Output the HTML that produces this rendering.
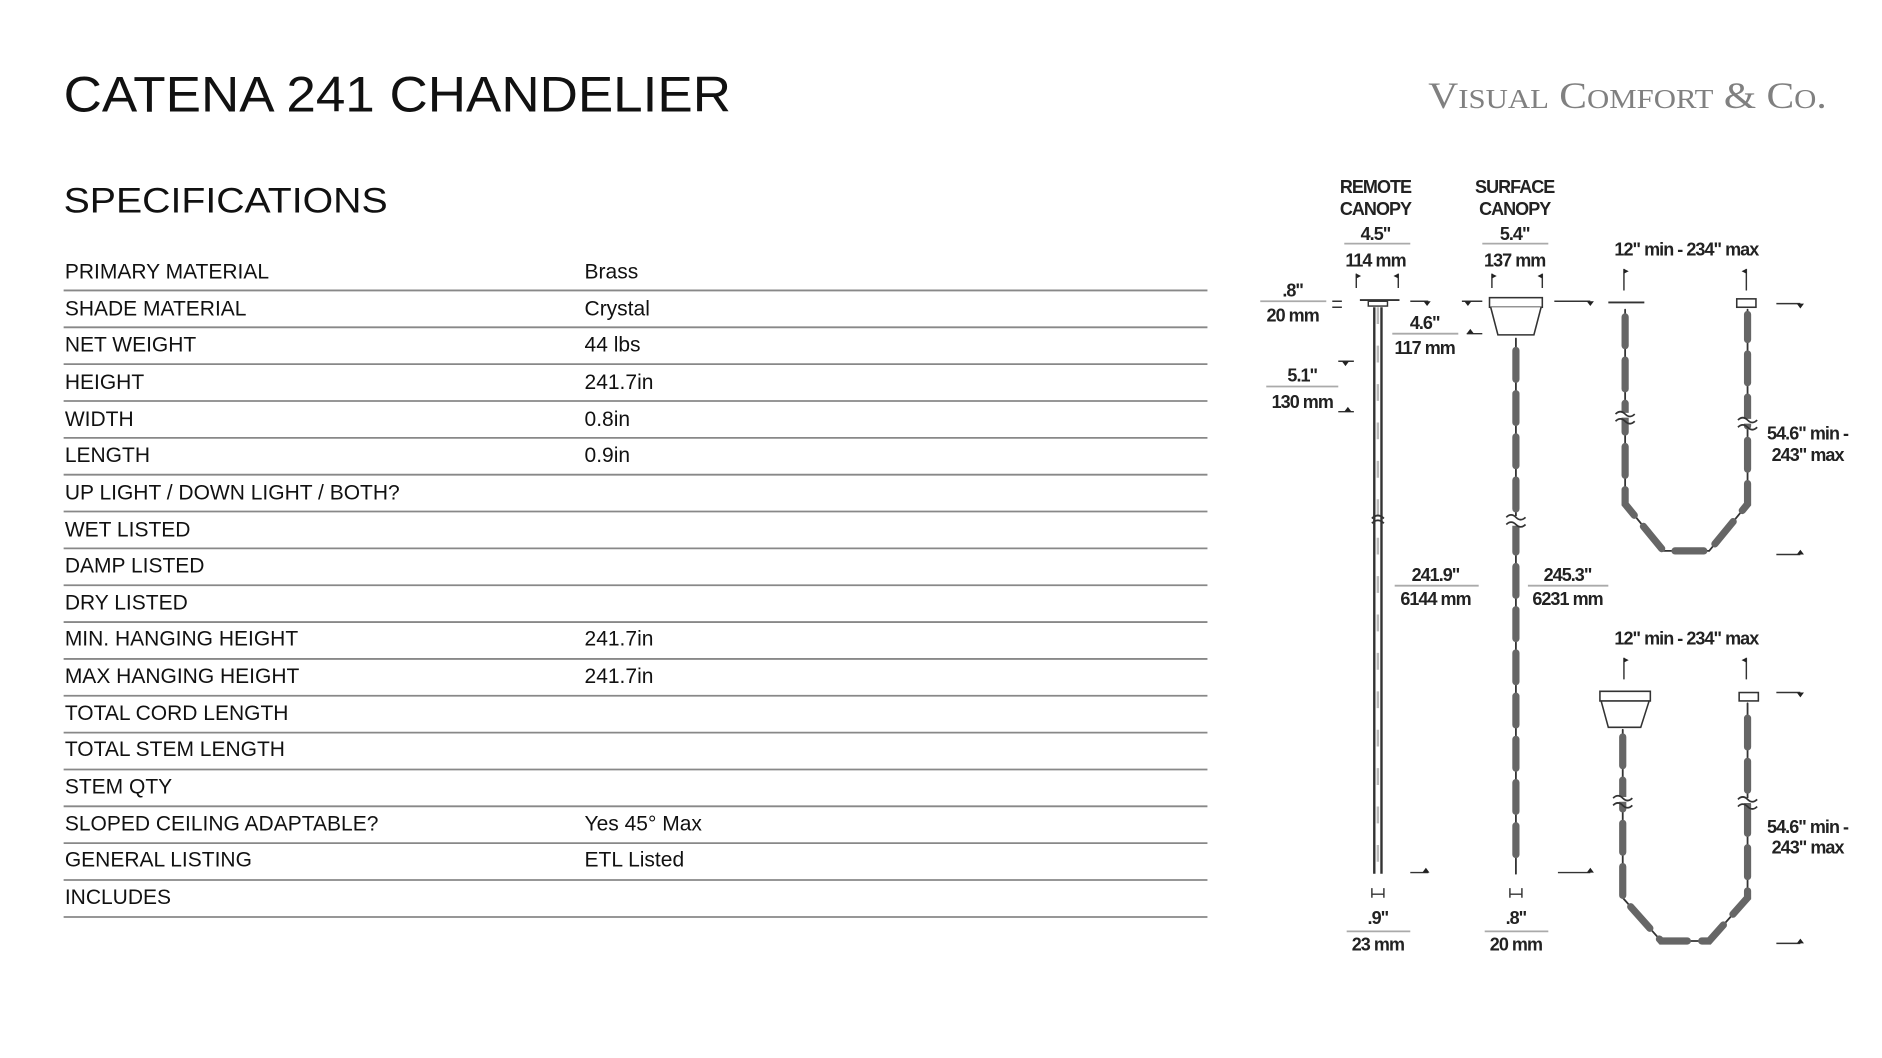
<!DOCTYPE html>
<html><head><meta charset="utf-8"><style>
html,body{margin:0;padding:0;background:#fff;}
svg{display:block}
.t{font-family:"Liberation Sans",sans-serif;fill:#111}
.d{font-family:"Liberation Sans",sans-serif;fill:#222;font-weight:bold;font-size:15px;letter-spacing:-0.8px}
</style></head><body>
<svg width="1882" height="1058" viewBox="0 0 1568 881.5" xmlns="http://www.w3.org/2000/svg">
<rect width="1568" height="882" fill="#fff"/>
<text class="t" x="53" y="93" font-size="42" textLength="556" lengthAdjust="spacingAndGlyphs" fill="#1a1a1a">CATENA 241 CHANDELIER</text>
<text class="t" x="53" y="177" font-size="29" textLength="270" lengthAdjust="spacingAndGlyphs">SPECIFICATIONS</text>
<text x="1190" y="90" font-family="Liberation Serif,serif" fill="#808080" font-size="31" textLength="332" lengthAdjust="spacingAndGlyphs">V<tspan font-size="23">ISUAL</tspan> C<tspan font-size="23">OMFORT</tspan> &amp; C<tspan font-size="23">O</tspan>.</text>
<g class="t" font-size="17.5">
<text x="54" y="232">PRIMARY MATERIAL</text><text x="487" y="232">Brass</text>
<text x="54" y="263">SHADE MATERIAL</text><text x="487" y="263">Crystal</text>
<text x="54" y="293">NET WEIGHT</text><text x="487" y="293">44 lbs</text>
<text x="54" y="324">HEIGHT</text><text x="487" y="324">241.7in</text>
<text x="54" y="355">WIDTH</text><text x="487" y="355">0.8in</text>
<text x="54" y="385">LENGTH</text><text x="487" y="385">0.9in</text>
<text x="54" y="416">UP LIGHT / DOWN LIGHT / BOTH?</text>
<text x="54" y="447">WET LISTED</text>
<text x="54" y="477">DAMP LISTED</text>
<text x="54" y="508">DRY LISTED</text>
<text x="54" y="538">MIN. HANGING HEIGHT</text><text x="487" y="538">241.7in</text>
<text x="54" y="569">MAX HANGING HEIGHT</text><text x="487" y="569">241.7in</text>
<text x="54" y="600">TOTAL CORD LENGTH</text>
<text x="54" y="630">TOTAL STEM LENGTH</text>
<text x="54" y="661">STEM QTY</text>
<text x="54" y="692">SLOPED CEILING ADAPTABLE?</text><text x="487" y="692">Yes 45° Max</text>
<text x="54" y="722">GENERAL LISTING</text><text x="487" y="722">ETL Listed</text>
<text x="54" y="753">INCLUDES</text>
</g>
<g stroke="#888" stroke-width="1.5">
<line x1="53" x2="1006" y1="242" y2="242"/><line x1="53" x2="1006" y1="272.7" y2="272.7"/><line x1="53" x2="1006" y1="303.4" y2="303.4"/><line x1="53" x2="1006" y1="334.1" y2="334.1"/><line x1="53" x2="1006" y1="364.8" y2="364.8"/><line x1="53" x2="1006" y1="395.5" y2="395.5"/><line x1="53" x2="1006" y1="426.2" y2="426.2"/><line x1="53" x2="1006" y1="456.9" y2="456.9"/><line x1="53" x2="1006" y1="487.6" y2="487.6"/><line x1="53" x2="1006" y1="518.3" y2="518.3"/><line x1="53" x2="1006" y1="549" y2="549"/><line x1="53" x2="1006" y1="579.7" y2="579.7"/><line x1="53" x2="1006" y1="610.4" y2="610.4"/><line x1="53" x2="1006" y1="641.1" y2="641.1"/><line x1="53" x2="1006" y1="671.8" y2="671.8"/><line x1="53" x2="1006" y1="702.5" y2="702.5"/><line x1="53" x2="1006" y1="733.2" y2="733.2"/><line x1="53" x2="1006" y1="764" y2="764"/>
</g>
<g class="d" text-anchor="middle">
<text x="1146" y="161">REMOTE</text><text x="1146" y="179">CANOPY</text>
<text x="1146" y="200">4.5"</text><text x="1146" y="222">114 mm</text>
<text x="1262" y="161">SURFACE</text><text x="1262" y="179">CANOPY</text>
<text x="1262" y="200">5.4"</text><text x="1262" y="222">137 mm</text>
<text x="1077" y="247">.8"</text><text x="1077" y="268">20 mm</text>
<text x="1187" y="274">4.6"</text><text x="1187" y="295">117 mm</text>
<text x="1085" y="318">5.1"</text><text x="1085" y="340">130 mm</text>
<text x="1196" y="484">241.9"</text><text x="1196" y="504">6144 mm</text>
<text x="1306" y="484">245.3"</text><text x="1306" y="504">6231 mm</text>
<text x="1148" y="770">.9"</text><text x="1148" y="792">23 mm</text>
<text x="1263" y="770">.8"</text><text x="1263" y="792">20 mm</text>
<text x="1405" y="213">12" min - 234" max</text>
<text x="1405" y="537">12" min - 234" max</text>
<text x="1506" y="366">54.6" min -</text><text x="1506" y="384">243" max</text>
<text x="1506" y="694">54.6" min -</text><text x="1506" y="711">243" max</text>
</g>
<g stroke="#aaa" stroke-width="1.5">
<line x1="1120" x2="1175" y1="203" y2="203"/><line x1="1235" x2="1290" y1="203" y2="203"/>
<line x1="1050" x2="1105" y1="251" y2="251"/><line x1="1160" x2="1215" y1="278" y2="278"/>
<line x1="1055" x2="1115" y1="322" y2="322"/><line x1="1162" x2="1232" y1="488" y2="488"/>
<line x1="1273" x2="1340" y1="488" y2="488"/><line x1="1122" x2="1175" y1="776" y2="776"/>
<line x1="1237" x2="1290" y1="776" y2="776"/>
</g>
<g stroke="#333" stroke-width="1.2" fill="none">
<path d="M1130 240V228M1165 240V228M1243 240V228M1285 240V228M1353 242V224M1455 242V224M1353 566V548M1455 566V548"/>
<path d="M1175 251H1190M1218 251H1235M1295 251H1325M1480 253H1500M1480 462H1500M1480 577H1500M1480 786H1500M1175 727H1190M1298 727H1325M1115 301H1128M1115 343H1128M1222 278H1235M1110 251H1118M1110 256H1118"/>
<path d="M1143 740V748M1153 740V748M1143 745H1153M1258 740V748M1268 740V748M1258 745H1268"/>
</g>
<g fill="#222">
<path d="M1130 228l4 2-4 2zM1165 228l-4 2 4 2zM1243 228l4 2-4 2zM1285 228l-4 2 4 2zM1353 224l4 2-4 2zM1455 224l-4 2 4 2zM1353 548l4 2-4 2zM1455 548l-4 2 4 2z"/>
<path d="M1186 251l3 4 3-4zM1220 251l3 4 3-4zM1322 251l3 4 3-4zM1497 253l3 4 3-4zM1497 462l3-4 3 4zM1497 577l3 4 3-4zM1497 786l3-4 3 4zM1185 727l3-4 3 4zM1322 727l3-4 3 4zM1118 301l3 4 3-4zM1120 343l3-4 3 4zM1222 278l3-4 3 4z"/>
</g>
<g stroke="#333" fill="none">
<path d="M1133 250H1166" stroke-width="1.5"/>
<rect x="1140" y="251" width="16" height="4" stroke-width="1.2"/>
<path d="M1145 256V728M1151 256V728" stroke-width="2"/>
<path d="M1148 256V728" stroke="#bbb" stroke-width="2" stroke-dasharray="14 18"/>
<path d="M1143 432q5-5 10 0M1143 436q5-5 10 0" stroke-width="1.5"/>
</g>
<g stroke="#333" fill="#fff" stroke-width="1.3">
<rect x="1241" y="248" width="44" height="8"/>
<path d="M1242 256L1248 279H1278L1284 256"/>
<path d="M1333 576h42v8h-42zM1334 584l6 22h27l7-22"/>
<rect x="1447" y="249" width="16" height="7"/>
<rect x="1449" y="577" width="16" height="7"/>
</g>
<g fill="none" stroke-linecap="round">
<path d="M1263 282V728" stroke="#333" stroke-width="1.5"/>
<path d="M1263 292V724" stroke="#666" stroke-width="6" stroke-dasharray="24 12"/>
<path d="M1354 258V420L1386 459H1424L1456 420V258" stroke="#333" stroke-width="1.5"/>
<path d="M1354 264V420L1386 459H1424L1456 420V262" stroke="#666" stroke-width="6" stroke-dasharray="24 12"/>
<path d="M1352 608V748L1384 784H1424L1456 748V586" stroke="#333" stroke-width="1.5"/>
<path d="M1352 614V748L1384 784H1424L1456 748V592" stroke="#666" stroke-width="6" stroke-dasharray="24 12"/>
</g>
<g stroke="#fff" stroke-width="4" fill="none">
<path d="M1256 432h14M1256 436h14M1347 346h14M1449 351h14M1345 666h14M1449 667h14"/>
</g>
<g stroke="#333" stroke-width="1.4" fill="none">
<path d="M1255 431q4-4 8 0t8 0M1255 437q4-4 8 0t8 0M1346 345q4-4 8 0t8 0M1346 351q4-4 8 0t8 0M1448 350q4-4 8 0t8 0M1448 356q4-4 8 0t8 0M1344 665q4-4 8 0t8 0M1344 671q4-4 8 0t8 0M1448 666q4-4 8 0t8 0M1448 672q4-4 8 0t8 0"/>
<path d="M1340 252H1370" stroke-width="1.5"/>
</g>
</svg>
</body></html>
